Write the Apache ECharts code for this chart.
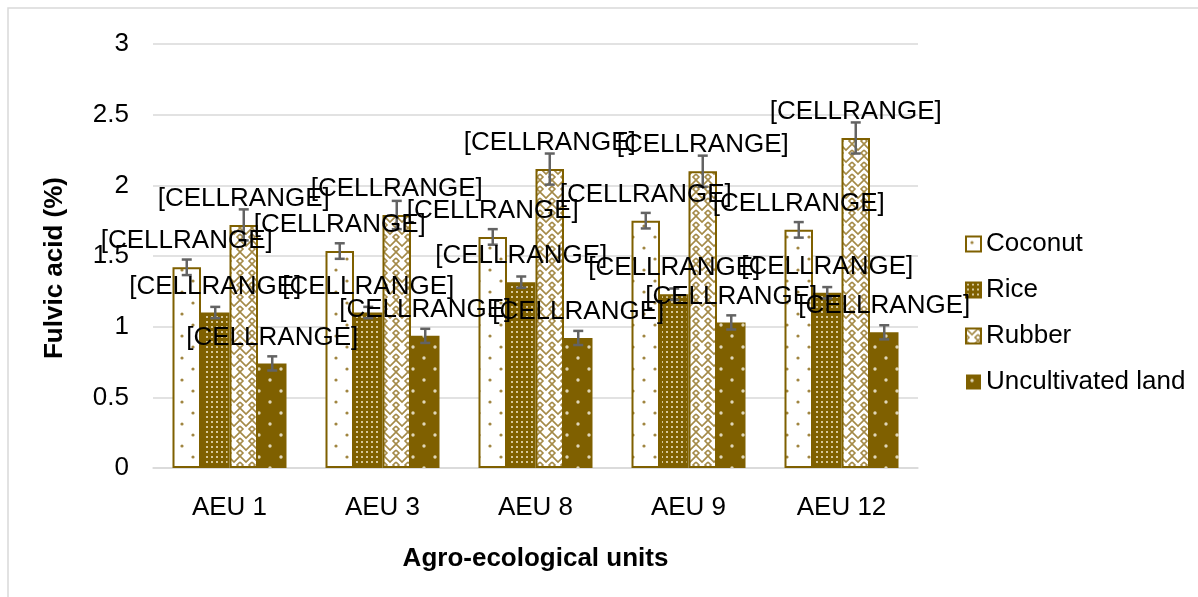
<!DOCTYPE html>
<html>
<head>
<meta charset="utf-8">
<script src="https://cdn.jsdelivr.net/npm/echarts@6/dist/echarts.min.js"></script>
<style>
  html, body { margin: 0; padding: 0; background: #fff; }
  #main { width: 1198px; height: 597px; }
</style>
</head>
<body>
<div id="main"></div>
<script>
// data
var units = ['AEU 1', 'AEU 3', 'AEU 8', 'AEU 9', 'AEU 12'];
var crops = ['Coconut', 'Rice', 'Rubber', 'Uncultivated land'];
var coconut = [1.42, 1.535, 1.635, 1.75, 1.685];
var rice = [1.10, 1.10, 1.315, 1.23, 1.24];
var rubber = [1.72, 1.79, 2.115, 2.10, 2.335];
var uncultivated = [0.74, 0.935, 0.92, 1.03, 0.96];
var coconutErr = [0.055, 0.055, 0.055, 0.055, 0.055];
var riceErr = [0.04, 0.04, 0.04, 0.04, 0.04];
var rubberErr = [0.11, 0.1, 0.11, 0.11, 0.11];
var uncultivatedErr = [0.05, 0.05, 0.05, 0.05, 0.05];
var yTicks = { min: 0, max: 3, interval: 0.5 };

var GOLD = '#7f6000';
var BW = 28.5;
var FONT = '"Liberation Sans", Arial, sans-serif';

// pattern tiles
function tile(w, h, draw) {
    var c = document.createElement('canvas');
    c.width = w; c.height = h;
    draw(c.getContext('2d'));
    return { image: c, repeat: 'repeat' };
}
var coconutFill = tile(22, 22, function (g) {
    g.fillStyle = '#fff'; g.fillRect(0, 0, 22, 22);
    g.fillStyle = '#a08540';
    g.beginPath(); g.arc(6, 6, 1.6, 0, Math.PI * 2); g.fill();
    g.beginPath(); g.arc(17, 17, 1.6, 0, Math.PI * 2); g.fill();
});
var riceFill = tile(5, 5, function (g) {
    g.fillStyle = GOLD; g.fillRect(0, 0, 5, 5);
    g.fillStyle = '#d6c89c'; g.fillRect(1, 1, 2, 2);
});
var rubberFill = tile(12, 12, function (g) {
    g.fillStyle = '#fff'; g.fillRect(0, 0, 12, 12);
    g.strokeStyle = '#a48a48'; g.lineWidth = 1.6;
    g.beginPath();
    g.moveTo(0, 0); g.lineTo(6, 6); g.lineTo(12, 0);
    g.moveTo(0, 6); g.lineTo(3, 9); g.lineTo(0, 12);
    g.moveTo(12, 6); g.lineTo(9, 9); g.lineTo(12, 12);
    g.stroke();
});
var uncultFill = tile(22, 22, function (g) {
    g.fillStyle = GOLD; g.fillRect(0, 0, 22, 22);
    g.fillStyle = '#e0d6b8';
    g.beginPath(); g.arc(6, 6, 1.7, 0, Math.PI * 2); g.fill();
    g.beginPath(); g.arc(17, 17, 1.7, 0, Math.PI * 2); g.fill();
});

var fills = [coconutFill, riceFill, rubberFill, uncultFill];
var values = [coconut, rice, rubber, uncultivated];
var errs = [coconutErr, riceErr, rubberErr, uncultivatedErr];

var series = [];
crops.forEach(function (name, k) {
    series.push({
        name: name,
        type: 'bar',
        barWidth: BW,
        barGap: '0%',
        z: 2,
        itemStyle: {
            color: fills[k],
            borderColor: GOLD,
            borderWidth: k === 3 ? 0 : 2
        },
        data: values[k]
    });
});
// error bars
crops.forEach(function (name, k) {
    series.push({
        type: 'custom',
        z: 5,
        data: values[k].map(function (v, i) { return [i, v, errs[k][i]]; }),
        encode: { x: 0, y: 1 },
        renderItem: function (params, api) {
            var c = api.value(0), v = api.value(1), e = api.value(2);
            var hi = api.coord([c, v + e]);
            var lo = api.coord([c, v - e]);
            var x = hi[0] + (k - 1.5) * BW;
            var st = { stroke: '#636363', lineWidth: 2.5 };
            return {
                type: 'group',
                children: [
                    { type: 'line', shape: { x1: x, y1: hi[1], x2: x, y2: lo[1] }, style: st },
                    { type: 'line', shape: { x1: x - 5, y1: hi[1], x2: x + 5, y2: hi[1] }, style: st },
                    { type: 'line', shape: { x1: x - 5, y1: lo[1], x2: x + 5, y2: lo[1] }, style: st }
                ]
            };
        }
    });
});
// data labels
crops.forEach(function (name, k) {
    series.push({
        type: 'custom',
        z: 8,
        data: values[k].map(function (v, i) { return [i, v]; }),
        encode: { x: 0, y: 1 },
        renderItem: function (params, api) {
            var p = api.coord([api.value(0), api.value(1)]);
            return {
                type: 'text',
                style: {
                    text: '[CELLRANGE]',
                    x: p[0] + (k - 1.5) * BW,
                    y: p[1] - 26,
                    textAlign: 'center',
                    textVerticalAlign: 'middle',
                    font: '26px ' + FONT,
                    fill: '#000'
                }
            };
        }
    });
});

var chart = echarts.init(document.getElementById('main'));
chart.setOption({
    animation: false,
    textStyle: { fontFamily: FONT },
    grid: { left: 153, right: 280, top: 44, bottom: 129 },
    legend: {
        data: crops,
        orient: 'vertical',
        left: 960,
        top: 226,
        itemWidth: 15,
        itemHeight: 15,
        itemGap: 20,
        itemTextGap: 5,
        icon: 'rect',
        textStyle: { fontSize: 26, color: '#000', fontFamily: FONT }
    },
    xAxis: {
        type: 'category',
        data: units,
        name: 'Agro-ecological units',
        nameLocation: 'middle',
        nameGap: 78,
        nameTextStyle: { fontSize: 26, fontWeight: 'bold', color: '#000', fontFamily: FONT },
        axisLine: { lineStyle: { color: '#d9d9d9', width: 1.5 } },
        axisTick: { show: false },
        axisLabel: { fontSize: 26, color: '#000', margin: 27, fontFamily: FONT }
    },
    yAxis: {
        type: 'value',
        min: yTicks.min,
        max: yTicks.max,
        interval: yTicks.interval,
        axisLine: { show: false },
        axisTick: { show: false },
        axisLabel: { fontSize: 26, color: '#000', margin: 24, fontFamily: FONT },
        splitLine: { lineStyle: { color: '#d9d9d9', width: 1.5 } }
    },
    graphic: [
        {
            type: 'rect',
            shape: { x: 8, y: 8, width: 1300, height: 700 },
            style: { fill: 'none', stroke: '#d9d9d9', lineWidth: 1.5 },
            z: -1
        },
        {
            type: 'text',
            x: 55,
            y: 268,
            rotation: Math.PI / 2,
            style: {
                text: 'Fulvic acid (%)',
                font: 'bold 26px ' + FONT,
                fill: '#000',
                textAlign: 'center',
                textVerticalAlign: 'middle'
            }
        }
    ],
    series: series
});
</script>
</body>
</html>
